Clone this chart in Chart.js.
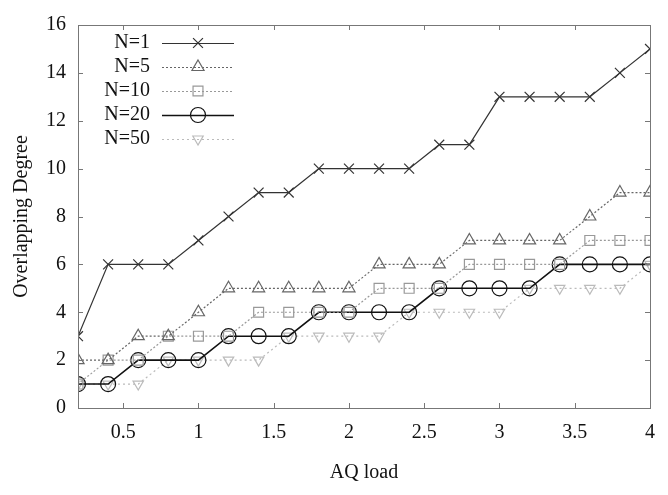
<!DOCTYPE html>
<html>
<head>
<meta charset="utf-8">
<script src="https://cdn.jsdelivr.net/npm/chart.js@4"></script>
<style>
  html, body { margin: 0; padding: 0; background: #fff; }
  #wrap { position: relative; width: 668px; height: 495px; }
</style>
</head>
<body>
<div id="wrap"><canvas id="c" width="668" height="495"></canvas></div>
<script>
const loads = [0.2, 0.4, 0.6, 0.8, 1.0, 1.2, 1.4, 1.6, 1.8, 2.0, 2.2, 2.4, 2.6, 2.8, 3.0, 3.2, 3.4, 3.6, 3.8, 4.0];
const n1  = [3, 6, 6, 6, 7, 8, 9, 9, 10, 10, 10, 10, 11, 11, 13, 13, 13, 13, 14, 15];
const n5  = [2, 2, 3, 3, 4, 5, 5, 5, 5, 5, 6, 6, 6, 7, 7, 7, 7, 8, 9, 9];
const n10 = [1, 2, 2, 3, 3, 3, 4, 4, 4, 4, 5, 5, 5, 6, 6, 6, 6, 7, 7, 7];
const n20 = [1, 1, 2, 2, 2, 3, 3, 3, 4, 4, 4, 4, 5, 5, 5, 5, 6, 6, 6, 6];
const n50 = [1, 1, 1, 2, 2, 2, 2, 3, 3, 3, 3, 4, 4, 4, 4, 5, 5, 5, 5, 6];
const xTicks = [0.5, 1, 1.5, 2, 2.5, 3, 3.5, 4];
const yTicks = [0, 2, 4, 6, 8, 10, 12, 14, 16];

const serif = "'Liberation Serif', 'DejaVu Serif', serif";

const pts = vals => vals.map((v, i) => ({ x: loads[i], y: v }));

const series = [
  { label: 'N=1',  data: pts(n1),  borderColor: '#333', borderWidth: 1.2, borderDash: [], pointStyle: 'crossRot', pointRadius: 7, pointRotation: 0 },
  { label: 'N=5',  data: pts(n5),  borderColor: '#666', borderWidth: 1.2, borderDash: [2, 2], pointStyle: 'triangle', pointRadius: 7, pointRotation: 0 },
  { label: 'N=10', data: pts(n10), borderColor: '#999', borderWidth: 1.2, borderDash: [2, 2], pointStyle: 'rect', pointRadius: 7, pointRotation: 0 },
  { label: 'N=20', data: pts(n20), borderColor: '#111', borderWidth: 1.6, borderDash: [], pointStyle: 'circle', pointRadius: 7.5, pointRotation: 0 },
  { label: 'N=50', data: pts(n50), borderColor: '#bbb', borderWidth: 1.2, borderDash: [2, 3], pointStyle: 'triangle', pointRadius: 6, pointRotation: 180 }
];

// inward tick marks on all four sides plus frame
const frame = {
  id: 'frame',
  afterDatasetsDraw(chart) {
    const { ctx, chartArea: a, scales } = chart;
    ctx.save();
    ctx.strokeStyle = '#777';
    ctx.lineWidth = 1;
    ctx.strokeRect(a.left + 0.5, a.top + 0.5, a.right - a.left, a.bottom - a.top);
    ctx.beginPath();
    xTicks.forEach(t => {
      const x = Math.round(scales.x.getPixelForValue(t)) + 0.5;
      ctx.moveTo(x, a.bottom); ctx.lineTo(x, a.bottom - 5);
      ctx.moveTo(x, a.top); ctx.lineTo(x, a.top + 5);
    });
    yTicks.forEach(t => {
      const y = Math.round(scales.y.getPixelForValue(t)) + 0.5;
      ctx.moveTo(a.left, y); ctx.lineTo(a.left + 5, y);
      ctx.moveTo(a.right, y); ctx.lineTo(a.right - 5, y);
    });
    ctx.stroke();
    ctx.restore();
  }
};

// gnuplot-style key: label right-aligned, sample line with marker
const key = {
  id: 'key',
  afterDatasetsDraw(chart) {
    const { ctx } = chart;
    ctx.save();
    ctx.font = '20px ' + serif;
    ctx.textAlign = 'right';
    ctx.textBaseline = 'middle';
    chart.data.datasets.forEach((ds, i) => {
      const y = 43 + i * 24;
      ctx.fillStyle = '#111';
      ctx.fillText(ds.label, 150, y);
      ctx.strokeStyle = ds.borderColor;
      ctx.lineWidth = ds.borderWidth;
      ctx.setLineDash(ds.borderDash);
      ctx.beginPath();
      ctx.moveTo(162, y + 0.5); ctx.lineTo(234, y + 0.5);
      ctx.stroke();
      ctx.setLineDash([]);
      ctx.fillStyle = 'rgba(0,0,0,0)';
      ctx.lineWidth = 1.2;
      Chart.helpers.drawPoint(ctx, {
        pointStyle: ds.pointStyle, radius: ds.pointRadius, rotation: ds.pointRotation, borderWidth: 1.2
      }, 198, y);
    });
    ctx.restore();
  }
};

new Chart(document.getElementById('c'), {
  type: 'line',
  data: {
    datasets: series.map(s => ({
      ...s,
      backgroundColor: 'rgba(0,0,0,0)',
      pointBackgroundColor: 'rgba(0,0,0,0)',
      pointBorderColor: s.borderColor,
      pointBorderWidth: 1.2,
      fill: false,
      tension: 0
    }))
  },
  options: {
    responsive: false,
    animation: false,
    layout: { padding: { top: 25, right: 2, left: 6, bottom: 0 } },
    plugins: { legend: { display: false }, tooltip: { enabled: false } },
    scales: {
      x: {
        type: 'linear',
        min: 0.2,
        max: 4,
        afterBuildTicks: s => { s.ticks = xTicks.map(v => ({ value: v })); },
        afterFit: s => { s.height = 87; },
        grid: { display: false, drawTicks: false },
        border: { display: false },
        ticks: { color: '#111', font: { family: serif, size: 20 }, padding: 13, maxRotation: 0, callback: v => String(v) },
        title: { display: true, text: 'AQ load', color: '#111', font: { family: serif, size: 20 }, padding: { top: 0, bottom: 10 } }
      },
      y: {
        min: 0,
        max: 16,
        afterBuildTicks: s => { s.ticks = yTicks.map(v => ({ value: v })); },
        afterFit: s => { s.width = 72; },
        grid: { display: false, drawTicks: false },
        border: { display: false },
        ticks: { color: '#111', font: { family: serif, size: 20 }, padding: 12 },
        title: { display: true, text: 'Overlapping Degree', color: '#111', font: { family: serif, size: 20 }, padding: { bottom: 4 } }
      }
    }
  },
  plugins: [frame, key]
});
</script>
</body>
</html>
